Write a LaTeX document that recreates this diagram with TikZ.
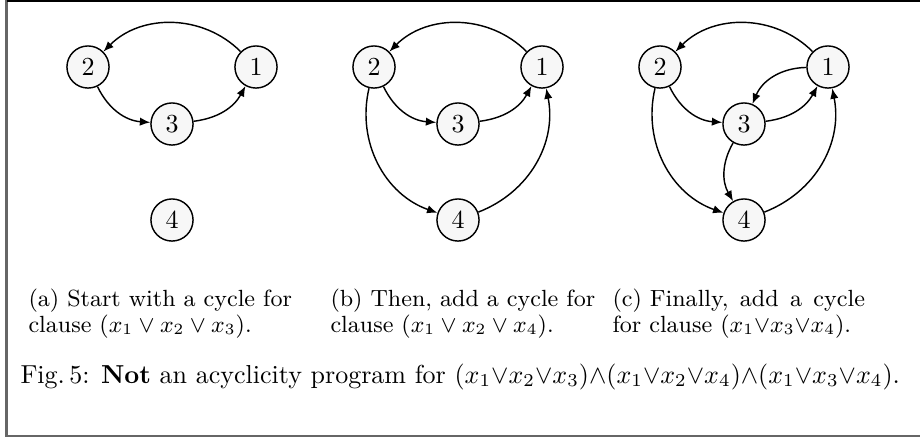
\documentclass[tikz,border=0pt]{standalone}
\usepackage{amsmath}
\usepackage{amssymb}
\usetikzlibrary{arrows.meta}

\begin{document}
\begin{tikzpicture}[x=0.3846pt, y=-0.3846pt,
    vertex/.style={circle, draw=black, fill=gray!6, line width=0.55pt, minimum size=16.2pt, inner sep=0pt, font=\normalsize},
    link/.style={-{Latex[length=4pt, width=3.2pt]}, line width=0.55pt},
    subtext/.style={anchor=base west, align=left, inner sep=0pt, font=\fontsize{9}{9.8}\selectfont},
    figtext/.style={anchor=base west, inner sep=0pt, font=\normalsize},
    frame/.style={line width=0.8pt, black!60}]

\useasboundingbox (0,0) rectangle (920,439);

% frame of the figure
\draw[frame] (6.5,0) -- (6.5,436) -- (920,436);
\draw[line width=0.6pt] (6.5,0.8) -- (920,0.8);

% (a) first cycle
\node[vertex] (a1) at (256,67) {1};
\node[vertex] (a2) at (88,67) {2};
\node[vertex] (a3) at (172,124) {3};
\node[vertex] (a4) at (172,220) {4};

\draw[link] (a1) to[bend right=45] (a2);
\draw[link] (a2) to[bend right=30] (a3);
\draw[link] (a3) to[bend right=27] (a1);

% (b) second cycle added
\node[vertex] (b1) at (542,67) {1};
\node[vertex] (b2) at (374,67) {2};
\node[vertex] (b3) at (458,124) {3};
\node[vertex] (b4) at (458,220) {4};

\draw[link] (b1) to[bend right=45] (b2);
\draw[link] (b2) to[bend right=30] (b3);
\draw[link] (b3) to[bend right=27] (b1);
\draw[link] (b2) to[bend right=42] (b4);
\draw[link] (b4) to[bend right=40] (b1);

% (c) third cycle added
\node[vertex] (c1) at (828,67) {1};
\node[vertex] (c2) at (660,67) {2};
\node[vertex] (c3) at (744,124) {3};
\node[vertex] (c4) at (744,220) {4};

\draw[link] (c1) to[bend right=45] (c2);
\draw[link] (c2) to[bend right=30] (c3);
\draw[link] (c3) to[bend right=27] (c1);
\draw[link] (c2) to[bend right=42] (c4);
\draw[link] (c4) to[bend right=40] (c1);
\draw[link] (c1) to[bend right=33] (c3);
\draw[link] (c3) to[bend right=30] (c4);

% sub-captions
\node[subtext] (capa) at (28,332) {(a) Start with a cycle for\\clause $(x_1 \vee x_2 \vee x_3)$.};
\node[subtext] (capb) at (330,332) {(b) Then, add a cycle for\\clause $(x_1 \vee x_2 \vee x_4)$.};
\node[subtext] (capc) at (612,332) {(c) Finally,\hspace{1.3pt} add\hspace{1.3pt} a\hspace{1.3pt} cycle\\for clause $(x_1{\vee}x_3{\vee}x_4)$.};

% figure caption
\node[figtext] (figcap) at (20,383) {Fig.\,5: \textbf{Not} an acyclicity program for $(x_1{\vee}x_2{\vee}x_3){\wedge}(x_1{\vee}x_2{\vee}x_4){\wedge}(x_1{\vee}x_3{\vee}x_4)$.};

\end{tikzpicture}
\end{document}
